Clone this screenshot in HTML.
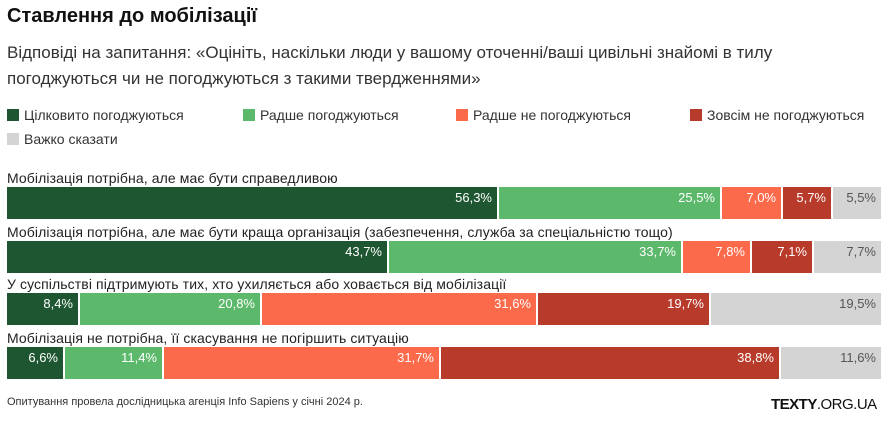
<!DOCTYPE html>
<html><head><meta charset="utf-8"><style>
body{margin:0;width:892px;height:436px;background:#fff;font-family:"Liberation Sans",sans-serif;color:#222;position:relative;overflow:hidden}
.a{position:absolute;white-space:nowrap}
.t{left:7px;top:5px;font-size:20px;font-weight:bold;color:#111}
.s{left:7px;top:40px;font-size:17px;line-height:26px;color:#333}
.lg{font-size:14px;color:#333}
.lg i{display:inline-block;width:12px;height:12px;vertical-align:-1px;margin-right:5px}
.lab{left:7px;font-size:14px;color:#222;letter-spacing:0.1px}
.b{position:absolute;height:32px;box-sizing:border-box;text-align:right;padding-right:5px;font-size:13px;color:#fff;line-height:22px;overflow:hidden}
.c1{background:#1e5631}.c2{background:#5cb96b}.c3{background:#fb6a4a}.c4{background:#b83a2a}.c5{background:#d4d4d4}
.b.c5{color:#555}
</style></head><body>
<div class="a t">Ставлення до мобілізації</div>
<div class="a s">Відповіді на запитання: «Оцініть, наскільки люди у вашому оточенні/ваші цивільні знайомі в тилу<br>погоджуються чи не погоджуються з такими твердженнями»</div>
<div class="a lg" style="left:7px;top:107px"><i class="c1"></i>Цілковито погоджуються</div>
<div class="a lg" style="left:243px;top:107px"><i class="c2"></i>Радше погоджуються</div>
<div class="a lg" style="left:456px;top:107px"><i class="c3"></i>Радше не погоджуються</div>
<div class="a lg" style="left:690px;top:107px"><i class="c4"></i>Зовсім не погоджуються</div>
<div class="a lg" style="left:7px;top:131px"><i class="c5"></i>Важко сказати</div>

<div class="a lab" style="top:170px">Мобілізація потрібна, але має бути справедливою</div>
<div class="b c1" style="top:187px;left:7px;width:490px">56,3%</div>
<div class="b c2" style="top:187px;left:499px;width:221px">25,5%</div>
<div class="b c3" style="top:187px;left:722px;width:59px">7,0%</div>
<div class="b c4" style="top:187px;left:783px;width:48px">5,7%</div>
<div class="b c5" style="top:187px;left:833px;width:48px">5,5%</div>

<div class="a lab" style="top:224px">Мобілізація потрібна, але має бути краща організація (забезпечення, служба за спеціальністю тощо)</div>
<div class="b c1" style="top:241px;left:7px;width:380px">43,7%</div>
<div class="b c2" style="top:241px;left:389px;width:292px">33,7%</div>
<div class="b c3" style="top:241px;left:683px;width:67px">7,8%</div>
<div class="b c4" style="top:241px;left:752px;width:60px">7,1%</div>
<div class="b c5" style="top:241px;left:814px;width:67px">7,7%</div>

<div class="a lab" style="top:276px">У суспільстві підтримують тих, хто ухиляється або ховається від мобілізації</div>
<div class="b c1" style="top:293px;left:7px;width:71px">8,4%</div>
<div class="b c2" style="top:293px;left:80px;width:180px">20,8%</div>
<div class="b c3" style="top:293px;left:262px;width:274px">31,6%</div>
<div class="b c4" style="top:293px;left:538px;width:171px">19,7%</div>
<div class="b c5" style="top:293px;left:711px;width:170px">19,5%</div>

<div class="a lab" style="top:330px">Мобілізація не потрібна, її скасування не погіршить ситуацію</div>
<div class="b c1" style="top:347px;left:7px;width:56px">6,6%</div>
<div class="b c2" style="top:347px;left:65px;width:97px">11,4%</div>
<div class="b c3" style="top:347px;left:164px;width:275px">31,7%</div>
<div class="b c4" style="top:347px;left:441px;width:338px">38,8%</div>
<div class="b c5" style="top:347px;left:781px;width:100px">11,6%</div>

<div class="a" style="left:7px;top:396px;font-size:11px;color:#333">Опитування провела дослідницька агенція Info Sapiens у січні 2024 р.</div>
<div class="a" style="left:771px;top:396px;font-size:15px;color:#111;letter-spacing:-0.5px"><b>TEXTY</b>.ORG.UA</div>
</body></html>
